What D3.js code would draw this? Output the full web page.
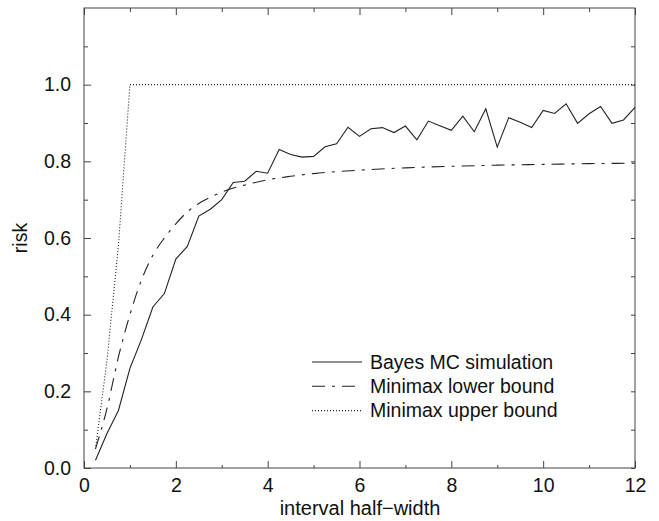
<!DOCTYPE html>
<html>
<head>
<meta charset="utf-8">
<script src="https://cdn.jsdelivr.net/npm/d3@7"></script>
<style>
  body { margin: 0; background: #fff; }
  text { font-family: "Liberation Sans", Arial, Helvetica, sans-serif; fill: #111; }
</style>
</head>
<body>
<div id="chart"></div>
<script>
// Bayes MC simulation, one point every 0.25
const bayes_x = [0.25, 0.5, 0.75, 1, 1.25, 1.5, 1.75, 2, 2.25, 2.5, 2.75, 3,
  3.25, 3.5, 3.75, 4, 4.25, 4.5, 4.75, 5, 5.25, 5.5, 5.75, 6,
  6.25, 6.5, 6.75, 7, 7.25, 7.5, 7.75, 8, 8.25, 8.5, 8.75, 9,
  9.25, 9.5, 9.75, 10, 10.25, 10.5, 10.75, 11, 11.25, 11.5, 11.75, 12];
const bayes_risk = [0.02, 0.09, 0.15, 0.26, 0.335, 0.42, 0.455, 0.545, 0.578, 0.657, 0.675, 0.70,
  0.745, 0.748, 0.774, 0.769, 0.831, 0.818, 0.811, 0.813, 0.838, 0.846, 0.889, 0.865,
  0.885, 0.888, 0.875, 0.892, 0.856, 0.905, 0.893, 0.881, 0.918, 0.877, 0.937, 0.837,
  0.914, 0.902, 0.888, 0.933, 0.925, 0.950, 0.899, 0.924, 0.943, 0.899, 0.908, 0.941];

// minimax lower bound
const lower_x = [0.25, 0.5, 0.75, 1, 1.25, 1.5, 1.75, 2, 2.25, 2.5, 2.75, 3, 3.5, 4, 4.5, 5, 6, 7, 8, 9, 10, 11, 12];
const lower_risk = [0.05, 0.155, 0.29, 0.40, 0.49, 0.555, 0.60, 0.637, 0.668, 0.69, 0.706, 0.72, 0.738, 0.752, 0.761, 0.768, 0.777, 0.783, 0.787, 0.790, 0.792, 0.794, 0.795];

// minimax upper bound
const upper_x = [0.25, 0.5, 0.75, 1, 12];
const upper_risk = [0.05, 0.28, 0.58, 1.0, 1.0];

const x_ticks = [0, 2, 4, 6, 8, 10, 12];
const y_ticks = [0.0, 0.2, 0.4, 0.6, 0.8, 1.0];
const legend_names = ["Bayes MC simulation", "Minimax lower bound", "Minimax upper bound"];

const width = 659, height = 521;
const margin = ({top: 8, right: 24, bottom: 53, left: 84});

const svg = d3.select("#chart").append("svg")
  .attr("width", width)
  .attr("height", height);

const x = d3.scaleLinear().domain([0, 12]).range([margin.left, width - margin.right]);
const y = d3.scaleLinear().domain([0, 1.2]).range([height - margin.bottom, margin.top]);

const ink = "#222";
const styles = [
  {dash: null},
  {dash: "13,7,3,7"},
  {dash: "1,2"}
];

// frame
svg.append("rect")
  .attr("x", x(0)).attr("y", y(1.2))
  .attr("width", x(12) - x(0)).attr("height", y(0) - y(1.2))
  .attr("fill", "none").attr("stroke", "#444").attr("stroke-width", 1);

// ticks point inward, on all four sides
const x_minor = [1, 3, 5, 7, 9, 11];
const y_minor = [0.1, 0.3, 0.5, 0.7, 0.9, 1.1];

svg.append("g")
  .attr("transform", `translate(0,${y(0)})`)
  .call(d3.axisBottom(x).tickValues(x_ticks).tickSize(-7).tickPadding(10).tickFormat(d3.format("d")))
  .call(g => g.select(".domain").remove());
svg.append("g")
  .attr("transform", `translate(0,${y(0)})`)
  .call(d3.axisBottom(x).tickValues(x_minor).tickSize(-3).tickFormat(""))
  .call(g => g.select(".domain").remove());
svg.append("g")
  .attr("transform", `translate(0,${y(1.2)})`)
  .call(d3.axisTop(x).tickValues(x_ticks.concat(x_minor)).tickSize(-4).tickFormat(""))
  .call(g => g.selectAll(".tick line").attr("y2", d => x_ticks.includes(d) ? 7 : 4))
  .call(g => g.select(".domain").remove());

svg.append("g")
  .attr("transform", `translate(${x(0)},0)`)
  .call(d3.axisLeft(y).tickValues(y_ticks).tickSize(-7).tickPadding(13).tickFormat(d3.format(".1f")))
  .call(g => g.select(".domain").remove());
svg.append("g")
  .attr("transform", `translate(${x(0)},0)`)
  .call(d3.axisLeft(y).tickValues(y_minor).tickSize(-4).tickFormat(""))
  .call(g => g.select(".domain").remove());
svg.append("g")
  .attr("transform", `translate(${x(12)},0)`)
  .call(d3.axisRight(y).tickValues(y_ticks.concat(y_minor)).tickSize(-4).tickFormat(""))
  .call(g => g.select(".domain").remove());

svg.selectAll(".tick line").attr("stroke", "#444");
svg.selectAll(".tick text")
  .attr("font-family", "Liberation Sans, Arial, sans-serif")
  .attr("font-size", 19.5)
  .attr("fill", "#111");

// curves
const series = [
  bayes_x.map((d, i) => ({x: d, y: bayes_risk[i]})),
  lower_x.map((d, i) => ({x: d, y: lower_risk[i]})),
  upper_x.map((d, i) => ({x: d, y: upper_risk[i]}))
];

const line = d3.line().x(d => x(d.x)).y(d => y(d.y));
const smooth = d3.line().x(d => x(d.x)).y(d => y(d.y)).curve(d3.curveMonotoneX);

svg.append("g").selectAll("path")
  .data(series)
  .enter()
  .append("path")
  .attr("d", (d, i) => i == 1 ? smooth(d) : line(d))
  .attr("fill", "none")
  .attr("stroke", ink)
  .attr("stroke-width", 1.1)
  .attr("stroke-dasharray", (d, i) => styles[i].dash);

// legend
const leg = svg.append("g").selectAll("g")
  .data(legend_names)
  .enter()
  .append("g")
  .attr("transform", (d, i) => `translate(312,${362 + i * 24.3})`);

leg.append("line")
  .attr("x1", 0).attr("x2", 50)
  .attr("stroke", ink)
  .attr("stroke-width", 1.1)
  .attr("stroke-dasharray", (d, i) => styles[i].dash);

leg.append("text")
  .attr("x", 58).attr("y", 6.5)
  .attr("font-size", 19.5)
  .text(d => d);

// axis titles
svg.append("text")
  .attr("x", 360).attr("y", 515)
  .attr("text-anchor", "middle")
  .attr("font-size", 20)
  .text("interval half\u2212width");

svg.append("text")
  .attr("transform", `translate(27,${(y(0) + y(1.2)) / 2}) rotate(-90)`)
  .attr("text-anchor", "middle")
  .attr("font-size", 19.5)
  .text("risk");
</script>
</body>
</html>
